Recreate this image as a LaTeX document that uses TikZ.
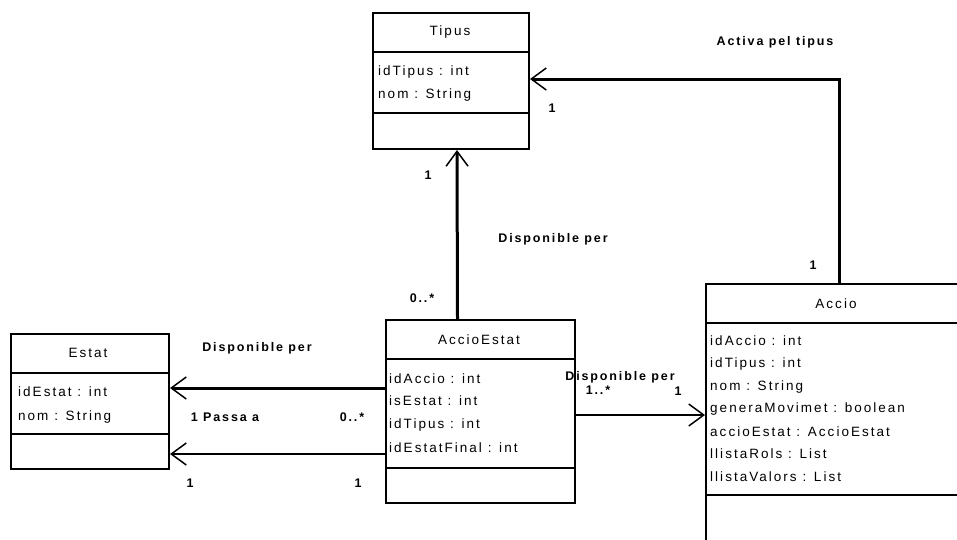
\documentclass[tikz,border=0pt]{standalone}
\usepackage{fontspec}
\setmainfont{Liberation Sans}
\newfontfamily\umlfont[LetterSpace=15]{Liberation Sans}
\usetikzlibrary{arrows.meta}
\tikzset{
  classbox/.style={draw, line width=2pt, inner sep=0pt, anchor=north west},
  sepline/.style={line width=1.4pt},
  assoc/.style={line width=3pt, -{Straight Barb[length=15pt,width=22pt,line width=1.5pt]}},
  assocthin/.style={line width=2pt, -{Straight Barb[length=15pt,width=22pt,line width=1.5pt]}},
  attr/.style={anchor=west, inner sep=0pt, font=\umlfont\fontsize{13.5}{15}\selectfont},
  ttl/.style={inner sep=0pt, font=\umlfont\fontsize{13.5}{15}\selectfont},
  lbl/.style={inner sep=0pt, font=\umlfont\bfseries\fontsize{12.5}{14}\selectfont}
}
\begin{document}
\begin{tikzpicture}[x=1pt,y=-1pt]
\useasboundingbox (0,0) rectangle (957,539);
\clip (0,0) rectangle (957,539);

% Tipus
\node[classbox, minimum width=156pt, minimum height=136pt] (tipus) at (372,12) {};
\draw[sepline] (tipus.west |- 0,52) -- (tipus.east |- 0,52);
\draw[sepline] (tipus.west |- 0,113) -- (tipus.east |- 0,113);
\node[ttl] (tipusT) at (450,32) {Tipus};
\node[attr] (tipusA1) at (378,72) {idTipus : int};
\node[attr] (tipusA2) at (378,95) {nom : String};

% Estat
\node[classbox, minimum width=158pt, minimum height=135pt] (estat) at (10,333) {};
\draw[sepline] (estat.west |- 0,373) -- (estat.east |- 0,373);
\draw[sepline] (estat.west |- 0,434) -- (estat.east |- 0,434);
\node[ttl] (estatT) at (88,353) {Estat};
\node[attr] (estatA1) at (18,392) {idEstat : int};
\node[attr] (estatA2) at (18,417) {nom : String};

% AccioEstat
\node[classbox, minimum width=189pt, minimum height=183pt] (ae) at (385,319) {};
\draw[sepline] (ae.west |- 0,359) -- (ae.east |- 0,359);
\draw[sepline] (ae.west |- 0,468) -- (ae.east |- 0,468);
\node[ttl] (aeT) at (479,340) {AccioEstat};
\node[attr] (aeA1) at (389,379) {idAccio : int};
\node[attr] (aeA2) at (389,401) {isEstat : int};
\node[attr] (aeA3) at (389,425) {idTipus : int};
\node[attr] (aeA4) at (389,448) {idEstatFinal : int};

% Accio
\node[classbox, minimum width=300pt, minimum height=300pt] (accio) at (705,283) {};
\draw[sepline] (accio.west |- 0,323) -- (accio.east |- 0,323);
\draw[sepline] (accio.west |- 0,495) -- (accio.east |- 0,495);
\node[ttl] (accioT) at (836,304) {Accio};
\node[attr] (accioA1) at (710,341) {idAccio : int};
\node[attr] (accioA2) at (710,364) {idTipus : int};
\node[attr] (accioA3) at (710,387) {nom : String};
\node[attr] (accioA4) at (710,409) {generaMovimet : boolean};
\node[attr] (accioA5) at (710,432) {accioEstat : AccioEstat};
\node[attr] (accioA6) at (710,454) {llistaRols : List};
\node[attr] (accioA7) at (710,477) {llistaValors : List};

% connectors
\draw[assoc] ([xshift=134pt]accio.north west) |- ([yshift=2pt]tipus.east);
\draw[assoc] ([xshift=-23pt]ae.north) -- ([xshift=6pt]tipus.south);
\draw[assocthin] ([yshift=-3.5pt]ae.east) -- ([yshift=-3.5pt]ae.east -| accio.west);
\draw[assoc] ([yshift=23.5pt]ae.west) -- ([yshift=23.5pt]ae.west -| estat.east);
\draw[assocthin] ([yshift=-42.5pt]ae.west) -- ([yshift=-42.5pt]ae.west -| estat.east);

% labels
\node[lbl] (l1) at (775,42) {Activa pel tipus};
\node[lbl] (l2) at (552,108) {1};
\node[lbl] (l3) at (813,265) {1};
\node[lbl] (l4) at (428,175) {1};
\node[lbl] (l5) at (553,239) {Disponible per};
\node[lbl] (l6) at (422,298) {0..*};
\node[lbl] (l7) at (257,348) {Disponible per};
\node[lbl] (l8) at (225,417) {1 Passa a};
\node[lbl] (l9) at (352,417) {0..*};
\node[lbl] (l10) at (190,483) {1};
\node[lbl] (l11) at (358,483) {1};
\node[lbl] (l12) at (620,377) {Disponible per};
\node[lbl] (l13) at (598,390) {1..*};
\node[lbl] (l14) at (678,391) {1};
\end{tikzpicture}
\end{document}
